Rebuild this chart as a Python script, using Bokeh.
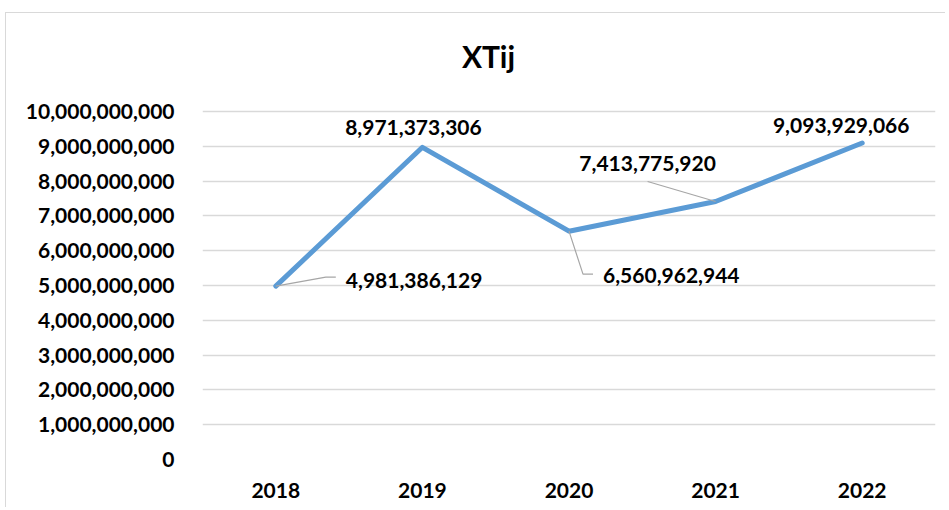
from bokeh.plotting import figure
from bokeh.models import Label, FixedTicker, NumeralTickFormatter, Range1d
from bokeh.embed import file_html
from bokeh.resources import INLINE

categories = ["2018", "2019", "2020", "2021", "2022"]
values = [4981386129, 8971373306, 6560962944, 7413775920, 9093929066]
y_ticks = [0, 1e9, 2e9, 3e9, 4e9, 5e9, 6e9, 7e9, 8e9, 9e9, 10e9]
title_text = "XTij"

FONT = "Lato"
FS = "21px"

# frame extended upward so the title can sit inside it (top at page y~30)
Y_TOP = 10e9 * 429 / 348

p = figure(width=940, height=495, output_backend="svg", toolbar_location=None,
           x_range=Range1d(-0.5, 4.5), y_range=Range1d(0, Y_TOP),
           min_border_left=196, min_border_right=11, min_border_top=17,
           min_border_bottom=49,
           styles={"margin-left": "5px", "margin-top": "12px",
                   "border-left": "1.5px solid #d9d9d9",
                   "border-top": "1.5px solid #d9d9d9"})
p.title.visible = False
p.outline_line_color = None
p.background_fill_color = "white"
p.border_fill_color = "white"

xs = list(range(len(categories)))

p.xgrid.visible = False
p.ygrid.grid_line_color = "#d9d9d9"
p.ygrid.grid_line_width = 1.5
p.ygrid.ticker = FixedTicker(ticks=y_ticks)

p.yaxis.ticker = FixedTicker(ticks=y_ticks)
p.yaxis.formatter = NumeralTickFormatter(format="0,0")
p.xaxis.ticker = FixedTicker(ticks=xs)
p.xaxis.major_label_overrides = {i: c for i, c in enumerate(categories)}
for ax in (p.xaxis, p.yaxis):
    ax.axis_line_color = None
    ax.major_tick_line_color = None
    ax.minor_tick_line_color = None
    ax.major_label_text_font = FONT
    ax.major_label_text_font_style = "bold"
    ax.major_label_text_font_size = FS
    ax.major_label_text_color = "black"
p.yaxis.major_label_standoff = 22
p.xaxis.major_label_standoff = 17

p.line(xs, values, line_color="#5B9BD5", line_width=5, line_join="round", line_cap="round")

# leader lines (pixel offsets converted via scale factors)
px_x = 146.6
px_y = 34.8 / 1e9
leaders = {0: [(50, 9), (60, 9)], 2: [(14, -43), (24, -43)], 3: [(-68, 20)]}
lx, ly = [], []
for i, pts in leaders.items():
    lx.append([xs[i]] + [xs[i] + dx / px_x for dx, dy in pts])
    ly.append([values[i]] + [values[i] + dy / px_y for dx, dy in pts])
p.multi_line(lx, ly, line_color="#a6a6a6", line_width=1.2)

# data labels: (dx, dy, align)
label_style = [(70, 6, "left"), (-9, 20, "center"), (34, -44, "left"),
               (-68, 38, "center"), (-21, 18, "center")]
for i, (dx, dy, al) in enumerate(label_style):
    p.add_layout(Label(x=xs[i], y=values[i], x_offset=dx, y_offset=dy,
                       text=f"{values[i]:,}", text_font=FONT, text_font_style="bold",
                       text_font_size=FS, text_align=al, text_baseline="middle",
                       text_color="black"))

# chart title
p.add_layout(Label(x=286, y=404, x_units="screen", y_units="screen", text=title_text,
                   text_font=FONT, text_font_style="bold", text_font_size="30px",
                   text_align="center", text_baseline="middle", text_color="black"))

open("out.html", "w").write(file_html(p, INLINE))
